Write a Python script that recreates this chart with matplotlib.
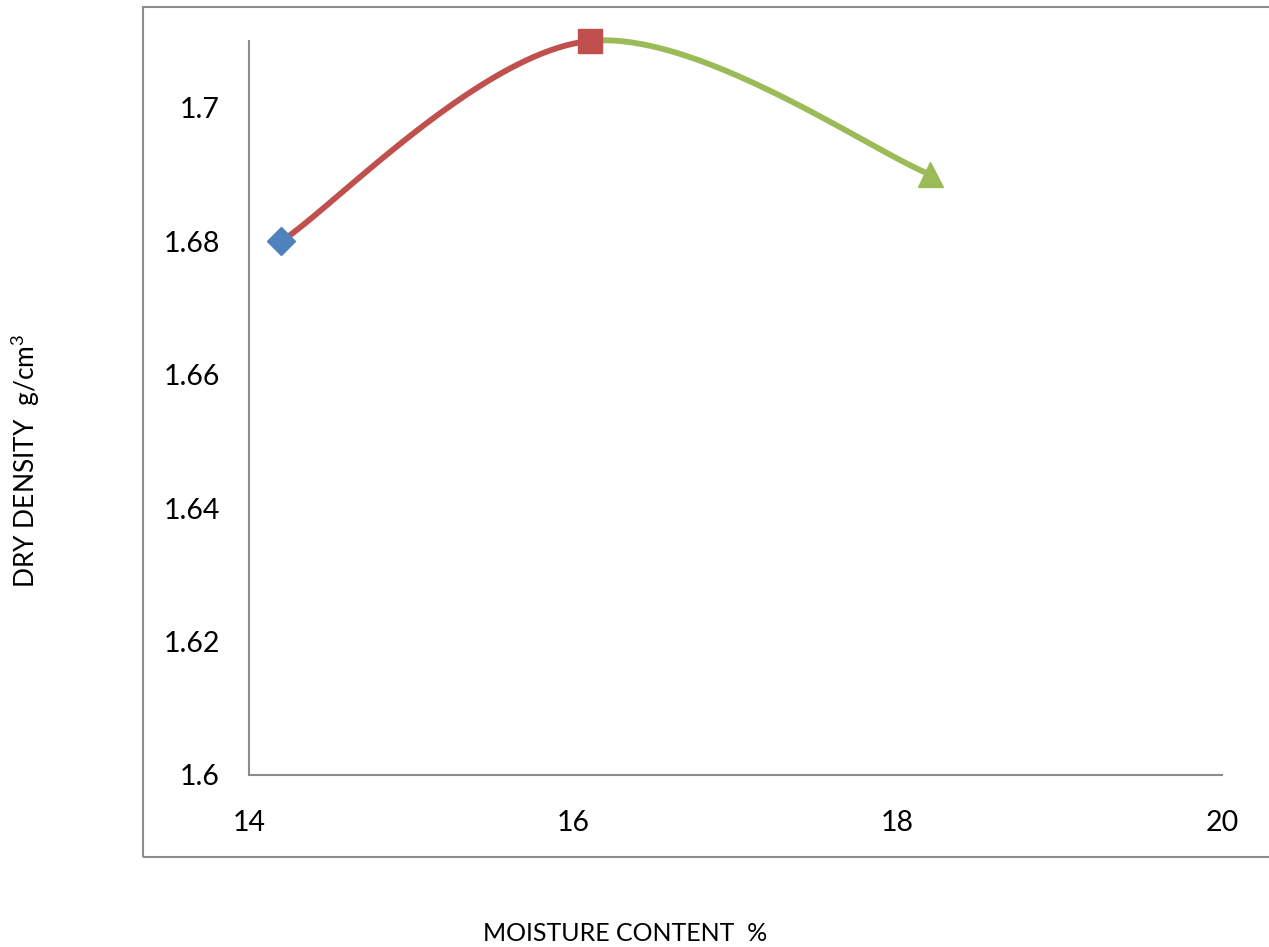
import numpy as np
import matplotlib
matplotlib.use('Agg')
import matplotlib.pyplot as plt
from matplotlib.patches import Rectangle

plt.rcParams['font.family'] = ['Lato', 'DejaVu Sans']
plt.rcParams['mathtext.fontset'] = 'custom'
plt.rcParams['mathtext.rm'] = 'Lato'

# compaction test points
moisture = [14.2, 16.1, 18.2]
density = [1.68, 1.71, 1.69]
point_colors = ['#4F81BD', '#C0504D', '#9BBB59']
point_markers = ['D', 's', '^']
point_sizes = [14, 17, 18]

x_ticks = [14, 16, 18, 20]
y_ticks = [1.6, 1.62, 1.64, 1.66, 1.68, 1.7]
y_tick_labels = ['1.6', '1.62', '1.64', '1.66', '1.68', '1.7']


def smooth_segment(pts, i, n=60):
    # bezier piece between pts[i] and pts[i+1], spreadsheet-style smoothing
    p0 = pts[max(i - 1, 0)]
    p1 = pts[i]
    p2 = pts[i + 1]
    p3 = pts[min(i + 2, len(pts) - 1)]
    c1 = p1 + (p2 - p0) / 6.0
    c2 = p2 - (p3 - p1) / 6.0
    t = np.linspace(0, 1, n)[:, None]
    return ((1 - t) ** 3 * p1 + 3 * (1 - t) ** 2 * t * c1
            + 3 * (1 - t) * t ** 2 * c2 + t ** 3 * p2)


fig = plt.figure(figsize=(12.69, 9.47), dpi=100)
# outer chart border
fig.patches.append(Rectangle((143 / 1269, 90 / 947), 1.2, 850 / 947,
                             transform=fig.transFigure, fill=False,
                             edgecolor='#8c8c8c', linewidth=1.5))

ax = fig.add_axes([249 / 1269, 172 / 947, 973 / 1269, 734 / 947])
ax.set_xlim(14, 20)
ax.set_ylim(1.6, 1.71)

# scale to axis units so the smoothing matches screen proportions
sx, sy = 6.0, 0.11
pts = np.column_stack([np.array(moisture) / sx, np.array(density) / sy])
for i in range(len(pts) - 1):
    seg = smooth_segment(pts, i)
    ax.plot(seg[:, 0] * sx, seg[:, 1] * sy, color=point_colors[i + 1],
            linewidth=4.2, solid_capstyle='round', clip_on=False, zorder=2)

for x, y, c, m, s in zip(moisture, density, point_colors, point_markers, point_sizes):
    ax.plot([x], [y], marker=m, color=c, markersize=s, markeredgecolor=c,
            linestyle='none', clip_on=False, zorder=3)

for side in ['top', 'right']:
    ax.spines[side].set_visible(False)
for side in ['left', 'bottom']:
    ax.spines[side].set_color('#8c8c8c')
    ax.spines[side].set_linewidth(1.5)

ax.set_xticks(x_ticks)
ax.set_xticklabels([str(v) for v in x_ticks])
ax.set_yticks(y_ticks)
ax.set_yticklabels(y_tick_labels)
ax.tick_params(axis='both', length=0, labelsize=20.5)
ax.tick_params(axis='x', pad=25)
ax.tick_params(axis='y', pad=21)

fig.text(625 / 1269, 1 - 933 / 947, 'MOISTURE CONTENT  %', fontsize=18,
         ha='center', va='center')
fig.text(25 / 1269, 1 - 461 / 947, r'DRY DENSITY  g/cm$^{3}$', fontsize=19,
         ha='center', va='center', rotation=90)

fig.savefig('out.png', dpi=100)
